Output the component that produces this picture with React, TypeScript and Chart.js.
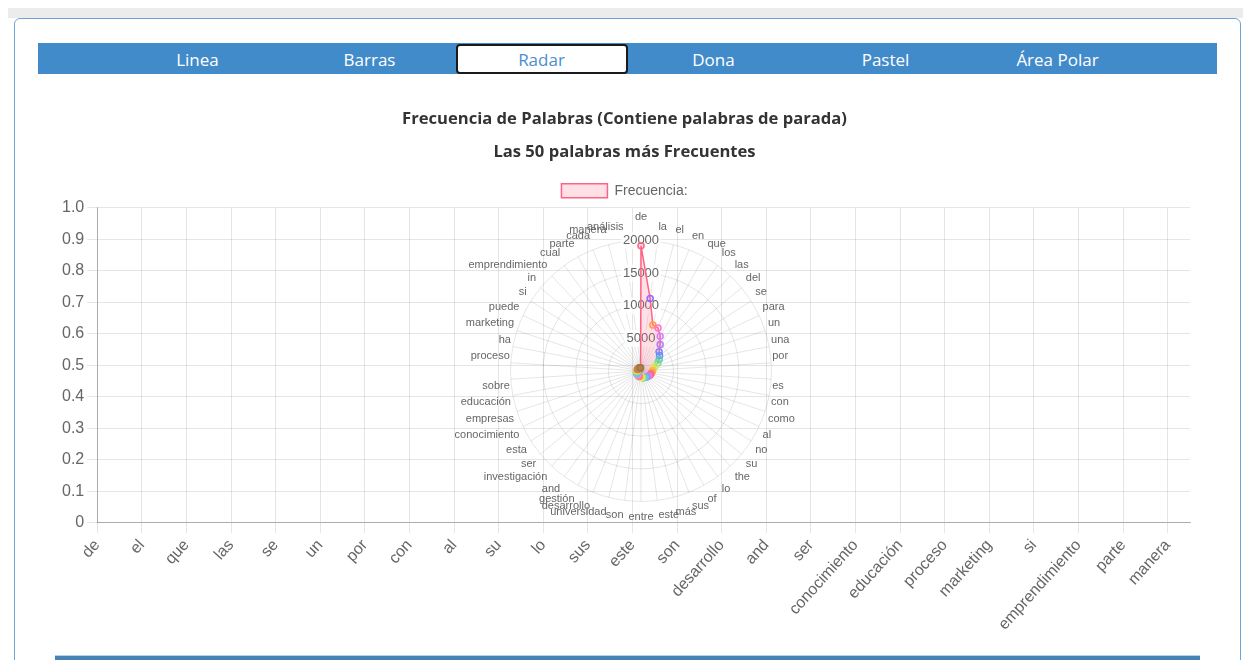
import React, { useEffect, useRef } from 'react';
import { Chart, registerables } from 'chart.js';

Chart.register(...registerables);

const palabras = [
  'de', 'la', 'el', 'en', 'que', 'los', 'las', 'del', 'se', 'para',
  'un', 'una', 'por', 'es', 'con', 'como', 'al', 'no', 'su', 'the',
  'lo', 'of', 'sus', 'más', 'este', 'entre', 'son', 'universidad', 'desarrollo', 'gestión',
  'and', 'investigación', 'ser', 'esta', 'conocimiento', 'empresas', 'educación', 'sobre', 'proceso', 'ha',
  'marketing', 'puede', 'si', 'in', 'emprendimiento', 'cual', 'parte', 'cada', 'manera', 'análisis',
];

const frecuencias = [
  19200, 11200, 7300, 7100, 6100, 5000, 4050, 3700, 3300, 2850,
  2250, 1900, 1800, 1700, 1650, 1550, 1500, 1400, 1300, 1250,
  1200, 1150, 1100, 1050, 1000, 950, 900, 870, 850, 820,
  800, 780, 760, 740, 720, 700, 680, 660, 640, 620,
  600, 590, 580, 570, 560, 550, 540, 530, 520, 510,
];

const coloresPuntos = [
  '#ff6384', '#9966ff', '#ff9f40', '#ff77c8', '#d580ff', '#b57cf5', '#8080ff', '#6f8cff', '#4dd0c8', '#7ee07e',
  '#c6e86a', '#e8e35a', '#f5c242', '#ffb347', '#ff8c69', '#ff6f91', '#ff5e78', '#f87dd4', '#c77dff', '#9d8cff',
  '#7fa8ff', '#66c7f4', '#5fd3b3', '#8be28b', '#b9e769', '#efe96a', '#ffd166', '#ffa94d', '#ff8a5b', '#ff6b6b',
  '#f78fb3', '#e08ef5', '#b69cff', '#8fa9ff', '#72c6ff', '#5ad1c2', '#7bd88f', '#a8de6c', '#d9e26a', '#f3cf5b',
  '#f0a855', '#e98a4f', '#d9734a', '#c97b4a', '#b98b5a', '#a98a60', '#c29a5a', '#b07d4a', '#a0784a', '#a0783c',
];

const pestanas = ['Linea', 'Barras', 'Radar', 'Dona', 'Pastel', 'Área Polar'];
const pestanaActiva = 'Radar';

const titulo = 'Frecuencia de Palabras (Contiene palabras de parada)';
const subtitulo = 'Las 50 palabras más Frecuentes';
const etiquetaSerie = 'Frecuencia:';

const yMin = 0;
const yMax = 1;
const yPaso = 0.1;
const rPaso = 5000;

// Repositions the radar's point labels (after Chart.js has fitted the scale) so
// that they sit slightly further out vertically than horizontally, as in the original.
function ajustarEtiquetasRadar(s: any) {
  const items = s._pointLabelItems;
  if (!items || !items.length) return;
  const D = s.drawingArea;
  for (let i = 0; i < items.length; i++) {
    const it = items[i];
    const th = s.getIndexAngle(i);
    const R = i === 0 ? D + 17 : D + 0.5 + 8 * Math.abs(Math.cos(th));
    const deg = Math.round((th * 180) / Math.PI) % 360;
    const h = it.bottom - it.top;
    const px = s.xCenter + R * Math.sin(th);
    let py = s.yCenter - R * Math.cos(th);
    if (deg === 90 || deg === 270) py -= h / 2;
    else if (deg > 270 || deg < 90) py -= h;
    const dx = px - it.x;
    const dy = py - it.y;
    it.x += dx;
    it.left += dx;
    it.right += dx;
    it.y += dy;
    it.top += dy;
    it.bottom += dy;
  }
}

export default function App() {
  const canvasRef = useRef<HTMLCanvasElement>(null);

  useEffect(() => {
    const canvas = canvasRef.current;
    if (!canvas) return;
    const tickColor = '#666';
    const chart = new Chart(canvas, {
      type: 'radar',
      data: {
        labels: palabras,
        datasets: [
          {
            label: etiquetaSerie,
            data: frecuencias,
            backgroundColor: 'rgba(255, 99, 132, 0.2)',
            borderColor: 'rgb(255, 99, 132)',
            borderWidth: 1.5,
            pointRadius: 3,
            pointBorderWidth: 1.5,
            pointBorderColor: coloresPuntos,
            pointBackgroundColor: coloresPuntos.map((c) => c + '33'),
          },
        ],
      },
      options: {
        animation: false,
        responsive: true,
        maintainAspectRatio: false,
        layout: { padding: { left: 4, right: 10, top: 0, bottom: 0 } },
        plugins: {
          title: {
            display: true,
            text: titulo,
            color: '#333',
            font: { family: "'Open Sans', sans-serif", size: 16.6, weight: 'bold' },
            padding: { top: 10, bottom: 10 },
          },
          subtitle: {
            display: true,
            text: subtitulo,
            color: '#333',
            font: { family: "'Open Sans', sans-serif", size: 16.6, weight: 'bold' },
            padding: { top: 3, bottom: 12 },
          },
          legend: {
            display: true,
            labels: {
              boxWidth: 46,
              boxHeight: 14,
              padding: 10,
              color: tickColor,
              font: { size: 14 },
            },
          },
          tooltip: { enabled: false },
        },
        scales: {
          r: {
            min: 0,
            afterSetDimensions: (s: any) => {
              s.xCenter -= 2;
              s.yCenter -= 2;
            },
            afterFit: ajustarEtiquetasRadar,
            ticks: {
              stepSize: rPaso,
              color: tickColor,
              font: { size: 13 },
              backdropColor: 'rgba(255,255,255,0.75)',
              callback: (v: any) => String(v),
            },
            grid: { color: 'rgba(0,0,0,0.1)', circular: true },
            angleLines: { color: 'rgba(0,0,0,0.1)' },
            pointLabels: {
              color: tickColor,
              font: { size: 11 },
              padding: (ctx: any) => (ctx.index === 0 ? 3 : -9.5),
            },
          },
          x: {
            type: 'category',
            position: 'bottom',
            labels: palabras,
            grid: { color: 'rgba(0,0,0,0.1)', tickLength: 10 },
            border: { color: 'rgba(0,0,0,0.25)' },
            ticks: {
              color: tickColor,
              font: { size: 16 },
              minRotation: 48,
              maxRotation: 48,
              autoSkip: true,
            },
          },
          y: {
            type: 'linear',
            position: 'left',
            min: yMin,
            max: yMax,
            grid: { color: 'rgba(0,0,0,0.1)', tickLength: 10 },
            border: { color: 'rgba(0,0,0,0.25)' },
            ticks: {
              stepSize: yPaso,
              color: tickColor,
              font: { size: 16 },
              callback: (v: any) => (Number(v) === 0 ? '0' : Number(v).toFixed(1)),
            },
          },
        } as any,
      },
    } as any);
    return () => chart.destroy();
  }, []);

  return (
    <div
      style={{
        position: 'fixed',
        left: 8,
        top: 8,
        width: 1235,
        height: 652,
        overflow: 'hidden',
        fontFamily: "'Open Sans', sans-serif",
      }}
    >
      <div style={{ position: 'absolute', left: 0, top: 0, width: '100%', height: 10, background: '#ececec' }} />
      <div
        style={{
          position: 'absolute',
          left: 6,
          top: 10,
          width: 1227,
          height: 700,
          boxSizing: 'border-box',
          border: '1px solid #6fa4d6',
          borderRadius: 6,
          background: '#fff',
        }}
      />
      <div
        style={{
          position: 'absolute',
          left: 30,
          top: 35,
          width: 1179,
          height: 31,
          background: '#428bca',
          display: 'flex',
          justifyContent: 'center',
        }}
      >
        {pestanas.map((p) => {
          const activa = p === pestanaActiva;
          return (
            <div
              key={p}
              style={{
                width: 172,
                height: 30,
                marginTop: 1,
                boxSizing: 'border-box',
                display: 'flex',
                alignItems: 'center',
                justifyContent: 'center',
                fontSize: 17,
                color: activa ? '#4a8fd0' : '#fff',
                background: activa ? '#fff' : 'transparent',
                border: activa ? '2px solid #1a1a1a' : '2px solid transparent',
                borderRadius: 4,
              }}
            >
              {p}
            </div>
          );
        })}
      </div>
      <div style={{ position: 'absolute', left: 47, top: 91, width: 1145, height: 538 }}>
        <canvas ref={canvasRef} />
      </div>
      <div
        style={{
          position: 'absolute',
          left: 47,
          top: 647,
          width: 1145,
          height: 5,
          background: '#4682b4',
          borderTop: '1px solid #b5d0e8',
        }}
      />
    </div>
  );
}
